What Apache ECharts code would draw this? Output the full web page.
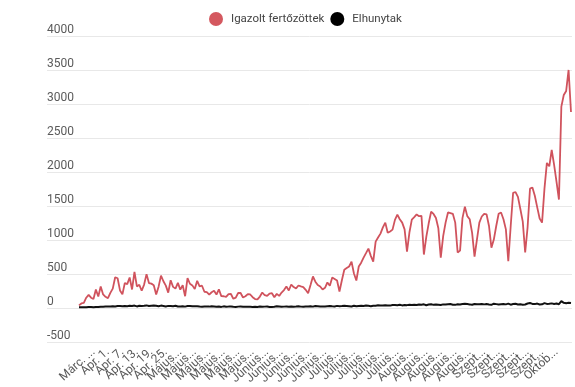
<!DOCTYPE html>
<html>
<head>
<meta charset="utf-8">
<script src="https://cdn.jsdelivr.net/npm/echarts@6/dist/echarts.min.js"></script>
<style>
html,body{margin:0;padding:0;background:#fff;}
#chart{width:575px;height:387px;}
</style>
</head>
<body>
<div id="chart"></div>
<script>
// Days covered: Mar 20 -> Oct 10
const monthNames = ["Márc.", "Ápr.", "Máj.", "Jún.", "Júl.", "Aug.", "Szept.", "Okt."];
const monthDays = [[20, 31], [1, 30], [1, 31], [1, 30], [1, 31], [1, 31], [1, 30], [1, 10]];
const categories = [];
monthDays.forEach(function (r, m) {
  for (let d = r[0]; d <= r[1]; d++) categories.push(monthNames[m] + " " + d + ".");
});

const tickLabels = ["Márc. ...", "Márc. ...", "Ápr. 1.", "Ápr. 7.", "Ápr. 13.", "Ápr. 19.", "Ápr. 25.",
  "Május...", "Május...", "Május...", "Május...", "Május...", "Május...",
  "Június...", "Június...", "Június...", "Június...", "Június...",
  "Július...", "Július...", "Július...", "Július...", "Július...",
  "Augus...", "Augus...", "Augus...", "Augus...", "Augus...",
  "Szept...", "Szept...", "Szept...", "Szept...", "Szept...",
  "Októb...", "Októb..."];

const yTicks = [-500, 0, 500, 1000, 1500, 2000, 2500, 3000, 3500, 4000];

const confirmedMar = [31, 59, 66, 143, 186, 144, 123, 263, 160, 308, 192, 157];
const confirmedApr = [136, 215, 278, 445, 430, 251, 193, 360, 344, 441, 265, 523, 310, 333, 246, 337, 491, 360, 351, 328,
  190, 306, 468, 386, 321, 218, 401, 303, 277, 362];
const confirmedMay = [262, 327, 165, 431, 349, 325, 270, 392, 312, 320, 231, 226, 190, 224, 245, 190, 267, 167, 165, 155,
  196, 198, 127, 145, 213, 213, 146, 165, 197, 191, 151];
const confirmedJun = [124, 118, 160, 220, 180, 170, 205, 210, 150, 200, 170, 220, 256, 309, 250, 338, 300, 280, 323, 310,
  300, 260, 210, 330, 456, 380, 330, 309, 265, 290];
const confirmedJul = [368, 320, 441, 420, 397, 235, 400, 555, 580, 603, 676, 500, 397, 603, 660, 735, 800, 867, 760, 676,
  970, 1030, 1088, 1180, 1250, 1100, 1120, 1147, 1290, 1367, 1300];
const confirmedAug = [1250, 1150, 823, 1104, 1294, 1330, 1370, 1345, 1350, 780, 1040, 1240, 1410, 1378, 1318, 1166, 735,
  1050, 1250, 1400, 1390, 1380, 1250, 810, 837, 1317, 1485, 1346, 1300, 1100, 750];
const confirmedSep = [1000, 1250, 1340, 1380, 1370, 1200, 880, 1000, 1200, 1380, 1400, 1300, 1150, 680, 1200, 1690, 1700,
  1630, 1450, 1265, 810, 1180, 1750, 1767, 1646, 1475, 1310, 1250, 1750, 2130];
const confirmedOct = [2080, 2320, 2100, 1850, 1590, 2960, 3130, 3190, 3500, 2880];

const deathsMar = [1, 2, 4, 3, 6, 5, 3, 5, 6, 11, 10, 13];
const deathsApr = [15, 14, 17, 13, 20, 22, 19, 21, 18, 24, 20, 27, 15, 26, 22, 24, 30, 21, 26, 28, 25, 18, 27, 22, 15, 23, 21, 18, 24, 14];
const deathsMay = [15, 16, 12, 20, 22, 18, 17, 19, 14, 10, 14, 13, 12, 17, 15, 11, 13, 8, 16, 10, 12, 13, 9, 8, 12, 15, 11, 11, 9, 10, 8];
const deathsJun = [11, 8, 13, 9, 12, 14, 7, 8, 9, 16, 13, 9, 12, 14, 10, 15, 11, 13, 17, 12, 9, 15, 14, 16, 12, 22, 18, 14, 13, 15];
const deathsJul = [18, 20, 17, 15, 23, 19, 21, 24, 22, 19, 15, 25, 17, 22, 26, 21, 28, 24, 19, 26, 24, 31, 29, 27, 33, 30, 27, 36, 35, 32, 39];
const deathsAug = [30, 37, 34, 41, 36, 39, 35, 44, 39, 46, 33, 42, 47, 38, 44, 40, 36, 45, 43, 48, 50, 41, 38, 46, 44, 51, 53, 49, 45, 40, 51];
const deathsSep = [48, 46, 52, 45, 50, 44, 39, 55, 49, 43, 47, 51, 45, 56, 41, 50, 54, 44, 47, 40, 43, 58, 65, 52, 49, 57, 44, 46, 63, 52];
const deathsOct = [55, 60, 52, 57, 48, 92, 68, 63, 70, 66];

const confirmed = [].concat(confirmedMar, confirmedApr, confirmedMay, confirmedJun, confirmedJul, confirmedAug, confirmedSep, confirmedOct);
const deaths = [].concat(deathsMar, deathsApr, deathsMay, deathsJun, deathsJul, deathsAug, deathsSep, deathsOct);

const chart = echarts.init(document.getElementById('chart'), null, {renderer: 'canvas'});
const option = {
  animation: false,
  backgroundColor: '#fff',
  legend: {
    top: 7,
    left: 204,
    itemWidth: 14,
    itemHeight: 14,
    itemGap: 6,
    icon: 'circle',
    textStyle: {fontFamily: 'Roboto', fontSize: 11.5, color: '#444', padding: [0, 0, 0, 3]},
    data: ['Igazolt fertőzöttek', 'Elhunytak']
  },
  grid: [
    {left: 47, right: 3, top: 36, bottom: 45},
    {left: 79, right: 4, top: 36, bottom: 45}
  ],
  xAxis: [
    {gridIndex: 0, type: 'value', show: false},
    {
      gridIndex: 1, type: 'category', boundaryGap: false, data: categories,
      axisLine: {show: false}, axisTick: {show: false},
      axisLabel: {
        interval: 5, rotate: 42, margin: 9, fontFamily: 'Roboto', fontSize: 12, color: '#5a5a5a',
        formatter: function (v, i) { return tickLabels[Math.round(i / 6)] || ''; }
      }
    }
  ],
  yAxis: [
    {
      gridIndex: 0, type: 'value', min: yTicks[0], max: yTicks[yTicks.length - 1], interval: 500,
      axisLine: {show: false}, axisTick: {show: false},
      splitLine: {lineStyle: {color: '#e8e8e8', width: 1}},
      axisLabel: {inside: true, margin: 0, verticalAlign: 'bottom', padding: [0, 0, 0, 0],
        fontFamily: 'Roboto', fontSize: 12, color: '#5a5a5a',
        formatter: function (v) { return String(v); }}
    },
    {
      gridIndex: 1, type: 'value', min: yTicks[0], max: yTicks[yTicks.length - 1], interval: 500,
      show: false, splitLine: {show: false}
    }
  ],
  series: [
    {
      name: 'Igazolt fertőzöttek', type: 'line', xAxisIndex: 1, yAxisIndex: 1,
      data: confirmed, showSymbol: false, symbol: 'circle',
      itemStyle: {color: '#d4585f'}, lineStyle: {color: '#d0535d', width: 1.8}
    },
    {
      name: 'Elhunytak', type: 'line', xAxisIndex: 1, yAxisIndex: 1,
      data: deaths, showSymbol: false, symbol: 'circle',
      itemStyle: {color: '#000'}, lineStyle: {color: '#111', width: 2}
    }
  ]
};
chart.setOption(option);
</script>
</body>
</html>
